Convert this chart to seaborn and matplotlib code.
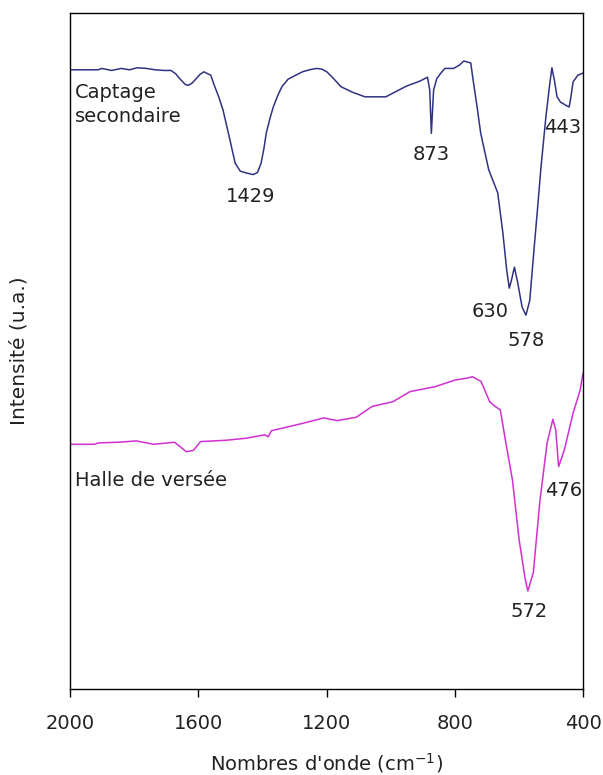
import numpy as np
import pandas as pd
import seaborn as sns
import matplotlib
matplotlib.use("Agg")
import matplotlib.pyplot as plt

# IR spectrum of the "Captage secondaire" dust (wavenumber in cm-1, intensity in a.u.)
captage_wn = [2000, 1950, 1912, 1901, 1870, 1840, 1815, 1790, 1761, 1735, 1707, 1685,
              1670, 1658, 1640, 1631, 1620, 1610, 1595, 1582, 1570, 1561, 1550, 1537,
              1523, 1501, 1485, 1469, 1447, 1429, 1415, 1404, 1395, 1388, 1377, 1366,
              1352, 1339, 1320, 1296, 1275, 1253, 1231, 1215, 1199, 1178, 1155, 1120,
              1080, 1015, 950, 910, 885, 878, 873, 866, 856, 845, 831, 804, 785, 772,
              750, 744, 730, 719, 694, 666, 650, 638, 630, 623, 614, 604, 590, 578,
              566, 553, 541, 531, 516, 505, 497, 489, 481, 470, 462, 452, 443, 437,
              431, 416, 400]
captage_int = [91.6, 91.6, 91.6, 91.8, 91.5, 91.8, 91.6, 91.9, 91.8, 91.6, 91.5, 91.5,
               91.0, 90.3, 89.4, 89.3, 89.6, 90.1, 90.9, 91.3, 91.0, 90.8, 89.3, 87.7,
               85.7, 81.2, 77.8, 76.6, 76.3, 76.1, 76.4, 77.8, 80.0, 82.2, 84.3, 86.1,
               87.8, 89.1, 90.2, 90.8, 91.3, 91.6, 91.8, 91.7, 91.3, 90.3, 89.1, 88.3,
               87.6, 87.6, 89.2, 89.9, 90.5, 88.6, 82.2, 88.6, 90.3, 91.0, 91.8, 91.8,
               92.3, 92.9, 92.6, 90.5, 86.0, 82.2, 76.8, 73.4, 67.5, 62.0, 59.3, 60.5,
               62.4, 60.2, 56.5, 55.3, 57.5, 64.9, 71.5, 77.2, 84.5, 89.0, 91.9, 90.0,
               87.6, 86.8, 86.6, 86.3, 86.1, 87.8, 89.8, 90.8, 91.1]

# IR spectrum of the "Halle de versée" dust
halle_wn = [2000, 1923, 1912, 1850, 1793, 1739, 1674, 1658, 1637, 1615, 1593, 1512,
            1450, 1393, 1382, 1372, 1274, 1209, 1166, 1107, 1058, 993, 939, 863, 799,
            760, 745, 718, 691, 674, 658, 642, 620, 599, 580, 572, 555, 534, 512, 494,
            485, 476, 458, 431, 409, 400]
halle_int = [36.2, 36.2, 36.4, 36.5, 36.7, 36.2, 36.5, 35.9, 35.1, 35.3, 36.6, 36.8,
             37.1, 37.6, 37.3, 38.2, 39.3, 40.1, 39.7, 40.2, 41.8, 42.5, 44.0, 44.7,
             45.7, 46.0, 46.2, 45.5, 42.5, 41.8, 41.3, 36.8, 30.9, 22.0, 16.2, 14.5,
             17.2, 28.0, 36.4, 39.9, 38.3, 32.9, 35.4, 40.8, 44.2, 46.7]

# Band labels: text and where it sits (wavenumber, intensity)
band_labels = ["1429", "873", "630", "578", "443", "572", "476"]
band_wn = [1437, 875, 691, 578, 462, 569, 459]
band_int = [72.8, 79.0, 55.9, 51.6, 83.1, 11.4, 29.4]

sample_names = ["Captage\nsecondaire", "Halle de versée"]
sample_wn = [1984, 1984]
sample_int = [86.5, 30.9]

x_ticks = [2000, 1600, 1200, 800, 400]

df = pd.concat([
    pd.DataFrame({"wn": captage_wn, "int": captage_int, "sample": "Captage secondaire"}),
    pd.DataFrame({"wn": halle_wn, "int": halle_int, "sample": "Halle de versée"}),
])

sns.set_style("white")
plt.rcParams["font.family"] = ["DejaVu Sans"]
plt.rcParams["font.size"] = 14

fig = plt.figure(figsize=(6.03, 7.75), dpi=100)
ax = fig.add_axes([70 / 603, 86 / 775, 513 / 603, 676 / 775])

sns.lineplot(data=df, x="wn", y="int", hue="sample", estimator=None, sort=False,
             palette={"Captage secondaire": "#2f3282", "Halle de versée": "#d030d0"},
             linewidth=1.1, legend=False, ax=ax)

ax.set_xlim(2000, 400)
ax.set_ylim(0, 100)
ax.set_xticks(x_ticks)
ax.set_xticklabels([str(t) for t in x_ticks])
ax.set_yticks([])
ax.tick_params(axis="x", direction="out", length=6, width=1, color="black",
               pad=12, labelsize=14, bottom=True, labelcolor="#222222")
for s in ax.spines.values():
    s.set_color("black")
    s.set_linewidth(1)

ax.set_xlabel("Nombres d'onde (cm$^{-1}$)", fontsize=14, labelpad=13, color="#222222")
ax.set_ylabel("Intensité (u.a.)", fontsize=14.5, labelpad=30, color="#222222")

for t, w, v in zip(band_labels, band_wn, band_int):
    ax.text(w, v, t, ha="center", va="center", fontsize=14, color="#222222")
for t, w, v in zip(sample_names, sample_wn, sample_int):
    ax.text(w, v, t, ha="left", va="center", fontsize=14, color="#222222",
            linespacing=1.3)

fig.savefig("out.png", dpi=100)
